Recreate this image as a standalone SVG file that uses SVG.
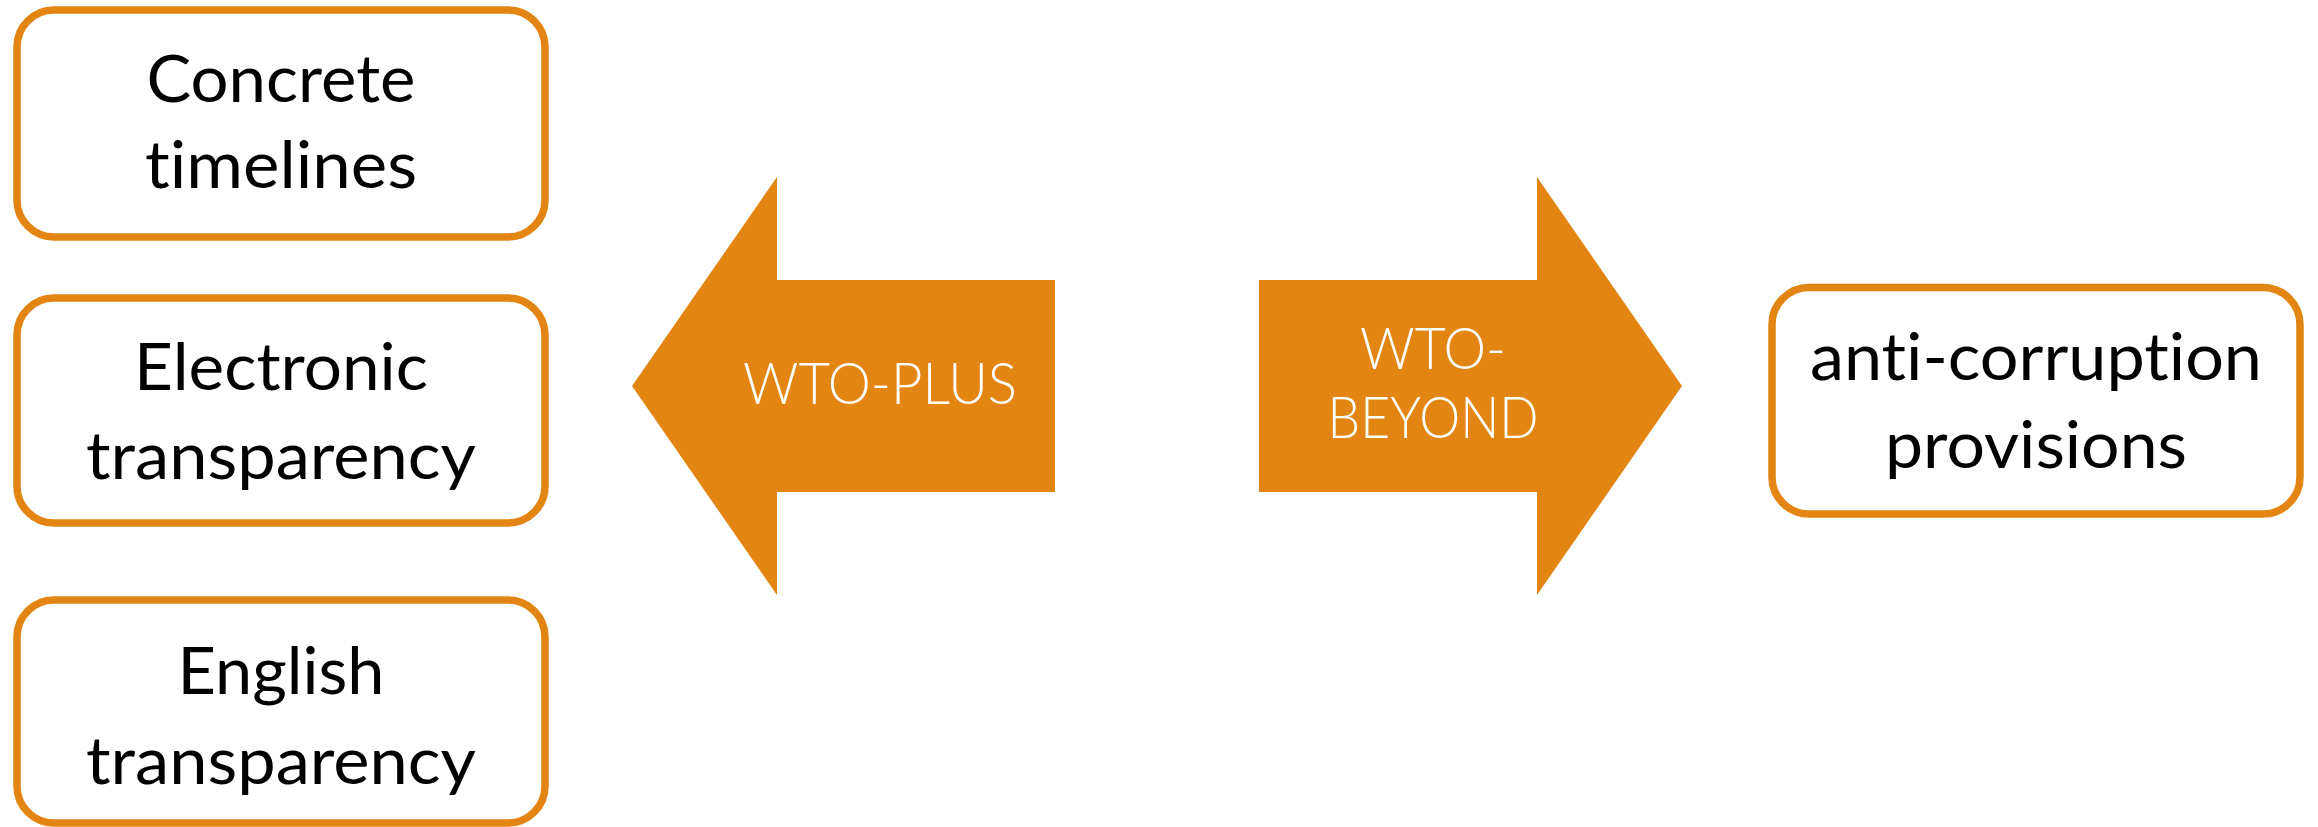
<svg xmlns="http://www.w3.org/2000/svg" width="2318" height="827" viewBox="0 0 2318 827">
  <style>
    .box { fill: #ffffff; stroke: #e38512; stroke-width: 7.5; }
    .label { font-family: Lato, "Open Sans", "Liberation Sans", sans-serif; font-size: 66px; fill: #000000; text-anchor: middle; font-variant-ligatures: none; }
    .arrow { fill: #e38512; stroke: none; }
    .arrow-label { font-family: Lato, "Open Sans", "Liberation Sans", sans-serif; font-weight: 300; font-size: 57px; fill: #ffffff; text-anchor: middle; font-variant-ligatures: none; }
  </style>
  <rect width="2318" height="827" fill="#ffffff"/>

  <!-- Left column: WTO-plus items -->
  <g id="node-concrete-timelines">
    <rect class="box" x="17" y="10" width="528" height="227" rx="37" ry="37"/>
    <text class="label" x="281" y="101.7" textLength="269" lengthAdjust="spacingAndGlyphs">Concrete</text>
    <text class="label" x="281" y="188.3" textLength="272" lengthAdjust="spacingAndGlyphs">timelines</text>
  </g>
  <g id="node-electronic-transparency">
    <rect class="box" x="17" y="298" width="528" height="225" rx="37" ry="37"/>
    <text class="label" x="281" y="390" textLength="294" lengthAdjust="spacingAndGlyphs">Electronic</text>
    <text class="label" x="281" y="479.3" textLength="390" lengthAdjust="spacingAndGlyphs">transparency</text>
  </g>
  <g id="node-english-transparency">
    <rect class="box" x="17" y="600" width="528" height="223" rx="37" ry="37"/>
    <text class="label" x="281" y="694" textLength="207" lengthAdjust="spacingAndGlyphs">English</text>
    <text class="label" x="281" y="784" textLength="390" lengthAdjust="spacingAndGlyphs">transparency</text>
  </g>

  <!-- Right column: WTO-beyond item -->
  <g id="node-anti-corruption">
    <rect class="box" x="1772" y="287.5" width="528" height="226.5" rx="37" ry="37"/>
    <text class="label" x="2036" y="380" textLength="452" lengthAdjust="spacingAndGlyphs">anti-corruption</text>
    <text class="label" x="2036" y="468" textLength="302" lengthAdjust="spacingAndGlyphs">provisions</text>
  </g>

  <!-- Block arrows -->
  <g id="connectors">
    <g id="arrow-wto-plus">
      <polygon class="arrow" points="632,386 777,177 777,280 1055,280 1055,492 777,492 777,595"/>
      <text class="arrow-label" x="880" y="404" textLength="274" lengthAdjust="spacingAndGlyphs">WTO-PLUS</text>
    </g>
    <g id="arrow-wto-beyond">
      <polygon class="arrow" points="1682,386 1537,177 1537,280 1259,280 1259,492 1537,492 1537,595"/>
      <text class="arrow-label" x="1433" y="369" textLength="146" lengthAdjust="spacingAndGlyphs">WTO-</text>
      <text class="arrow-label" x="1433" y="438" textLength="211" lengthAdjust="spacingAndGlyphs">BEYOND</text>
    </g>
  </g>
</svg>
